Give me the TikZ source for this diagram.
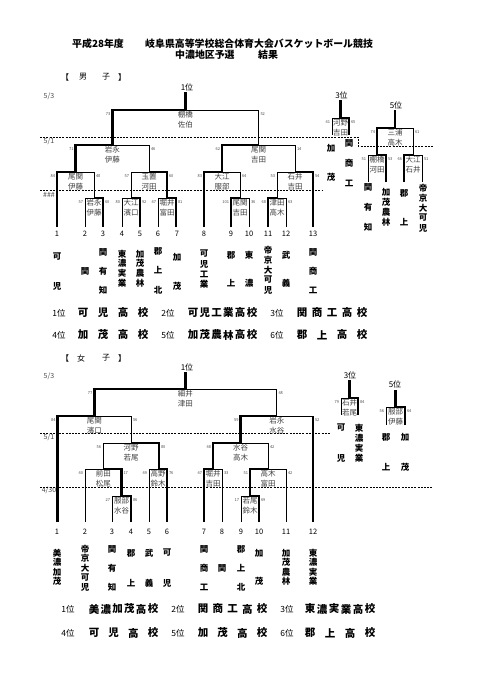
\documentclass[tikz,border=0pt]{standalone}
\usepackage{fontspec}
\setmainfont{Noto Sans CJK JP}
\newcounter{nd}
\newcommand{\T}[3][]{\stepcounter{nd}\node[#1] (t\arabic{nd}) at (#2) {#3};}
\newcommand{\MtL}[5]{\draw[thk] (#1,#4) -- (#1,#3) -- ({(#1+#2)/2},#3); \draw[thn] ({(#1+#2)/2},#3) -- (#2,#3) -- (#2,#5);}
\newcommand{\MtR}[5]{\draw[thn] ({(#1+#2)/2},#3) -- (#1,#3) -- (#1,#4); \draw[thk] (#2,#5) -- (#2,#3) -- ({(#1+#2)/2},#3);}
\newcommand{\Rf}[7]{\T[ref]{{(#1+#2)/2},{#3+5}}{#4}\T[ref]{{(#1+#2)/2},{#3+14.5}}{#5}\T[sc,anchor=east]{{#1-1.5},{#3+4}}{#6}\T[sc,anchor=west]{{#2+1.5},{#3+4}}{#7}}
\newcommand{\VN}[4]{\foreach \c [count=\i from 0] in {#4} {\T[tn]{#1,{#2+\i*#3}}{\c}}}
\newcommand{\RK}[4]{\foreach \c [count=\i from 0] in {#4} {\T[rk]{{#1+\i*#2},#3}{\c}}}
\begin{document}
\begin{tikzpicture}[x=1pt,y=-1pt,
  thn/.style={line width=0.8pt},
  thk/.style={line width=2.6pt,line cap=square},
  dsh/.style={line width=0.6pt,dash pattern=on 2pt off 1.2pt},
  ref/.style={font=\fontsize{7.5}{8}\selectfont,text=black!75,inner sep=0pt},
  sc/.style={font=\fontsize{4}{4}\selectfont,text=black!70,inner sep=0.3pt},
  tn/.style={font=\fontsize{8.5}{9}\selectfont\bfseries,inner sep=0pt},
  num/.style={font=\fontsize{7.5}{8}\selectfont,inner sep=0pt},
  dt/.style={font=\fontsize{7}{8}\selectfont,text=black!70,inner sep=0pt},
  lab/.style={font=\fontsize{8}{9}\selectfont,inner sep=0pt},
  rk/.style={font=\fontsize{10.5}{11}\selectfont\bfseries,inner sep=0pt},
  rkl/.style={font=\fontsize{8.5}{9}\selectfont,inner sep=0pt},
  ttl/.style={font=\fontsize{9.9}{11}\selectfont\bfseries,inner sep=0pt,anchor=west}]
\useasboundingbox[fill=white] (0,0) rectangle (481,680);
% titles
\T[ttl]{72,44}{平成28年度}
\T[ttl]{145,44}{岐阜県高等学校総合体育大会バスケットボール競技}
\T[ttl]{175,55}{中濃地区予選}
\T[ttl]{258,55}{結果}
% section labels
\T[lab]{65,77}{【}\T[lab]{83,77}{男}\T[lab]{106,77}{子}\T[lab]{122,77}{】}
\T[lab]{65,358}{【}\T[lab]{81,358}{女}\T[lab]{106,358}{子}\T[lab]{122,358}{】}
% ===== MEN =====
\T[lab]{187,87}{1位}
\T[dt]{49,96}{5/3}\T[dt]{49,141}{5/1}\T[dt]{49,195}{\#\#\#}
\draw[dsh] (40,137) -- (358,137) -- (358,146) -- (433,146);
\draw[dsh] (40,190) -- (323,190);
\draw[thk] (185.4,92) -- (185.4,110);
\MtL{112.25}{258.5}{110}{145}{145}
\MtL{75.5}{149}{145}{172}{172}
\MtL{57}{94}{172}{227}{198}
\MtR{85}{103}{198}{227}{227}
\MtR{131}{167}{172}{198}{198}
\MtR{122}{140}{198}{227}{227}
\MtR{158}{176}{198}{227}{227}
\MtL{222}{295}{145}{172}{172}
\MtL{204}{240}{172}{227}{198}
\MtL{231}{249}{198}{227}{227}
\MtR{277}{313}{172}{198}{227}
\MtL{268}{286}{198}{227}{227}
\Rf{112.25}{258.5}{110}{棚橋}{佐伯}{73}{52}
\Rf{75.5}{149}{145}{岩永}{伊藤}{71}{46}
\Rf{57}{94}{172}{尾関}{伊藤}{84}{48}
\Rf{85}{103}{198}{岩永}{伊藤}{57}{60}
\Rf{131}{167}{172}{玉置}{河田}{57}{60}
\Rf{122}{140}{198}{大江}{濱口}{80}{92}
\Rf{158}{176}{198}{堀井}{富田}{47}{81}
\Rf{222}{295}{145}{尾関}{吉田}{62}{14}
\Rf{204}{240}{172}{大江}{服部}{83}{64}
\Rf{231}{249}{198}{尾関}{吉田}{101}{36}
\Rf{277}{313}{172}{石井}{吉田}{53}{54}
\Rf{268}{286}{198}{津田}{高木}{68}{63}
% men 3rd
\T[lab]{341.5,95}{3位}
\draw[thk] (340.5,100) -- (340.5,118);
\MtR{332}{349}{118}{135}{135}
\Rf{332}{349}{118}{河野}{吉田}{41}{65}
\VN{331}{148}{29}{加,茂}
\VN{349}{143}{20}{関,商,工}
% men 5th
\T[lab]{396,105}{5位}
\draw[thk] (395,110) -- (395,128);
\MtL{377}{413}{128}{155}{155}
\MtR{368}{386}{155}{182}{182}
\MtL{404}{422}{155}{182}{182}
\Rf{377}{413}{128}{三浦}{高木}{74}{61}
\Rf{368}{386}{155}{棚橋}{河田}{51}{53}
\Rf{404}{422}{155}{大江}{石井}{66}{51}
\VN{368}{187}{20}{関,有,知}
\VN{386}{192}{10}{加,茂,農,林}
\VN{404}{193}{29}{郡,上}
\VN{423}{188}{10}{帝,京,大,可,児}
% men numbers
\foreach \x [count=\n] in {57,85,103,122,140,158,177,204,231,249,268,286,313} {\T[num]{\x,234}{\n}}
\VN{57}{257}{29}{可,児}
\VN{85}{271}{0}{関}
\VN{103}{252}{19}{関,有,知}
\VN{122}{254}{9.7}{東,濃,実,業}
\VN{140}{254}{9.7}{加,茂,農,林}
\VN{158}{251}{19.5}{郡,上,北}
\VN{177}{257}{29}{加,茂}
\VN{204}{254}{10}{可,児,工,業}
\VN{231}{255}{28}{郡,上}
\VN{249}{255}{28}{東,濃}
\VN{268}{250}{10}{帝,京,大,可,児}
\VN{286}{255}{28}{武,義}
\VN{313}{252}{19}{関,商,工}
% men ranking
\T[rkl]{59,313}{1位}\RK{83}{20}{313}{可,児,高,校}
\T[rkl]{168,313}{2位}\RK{193}{11.8}{313}{可,児,工,業,高,校}
\T[rkl]{277,313}{3位}\RK{302}{15}{313}{関,商,工,高,校}
\T[rkl]{59,335}{4位}\RK{83}{20}{335}{加,茂,高,校}
\T[rkl]{168,335}{5位}\RK{193}{11.8}{335}{加,茂,農,林,高,校}
\T[rkl]{277,335}{6位}\RK{302}{20}{335}{郡,上,高,校}
% ===== WOMEN =====
\T[lab]{187,367}{1位}
\T[dt]{49,376}{5/3}\T[dt]{49,437}{5/1}\T[dt]{49,490}{4/30}
\draw[dsh] (40,433) -- (330,433);
\draw[dsh] (40,487) -- (432,487);
\draw[thk] (185.4,372) -- (185.4,389);
\MtL{94.25}{276.5}{389}{416}{416}
\MtL{57.5}{131}{416}{522}{443}
\MtR{103}{159}{443}{469}{469}
\MtR{85}{121.5}{469}{522}{496}
\MtR{112}{131}{496}{522}{522}
\MtR{149}{167}{469}{522}{522}
\MtL{240.5}{313}{416}{443}{522}
\draw[thk] (313,416) -- (313,522);
\MtL{213}{268}{443}{469}{469}
\MtL{204}{222}{469}{522}{522}
\MtL{250}{286}{469}{496}{522}
\MtR{241}{259}{496}{522}{522}
\Rf{94.25}{276.5}{389}{細井}{津田}{77}{48}
\Rf{57.5}{131}{416}{尾関}{濱口}{84}{56}
\Rf{103}{159}{443}{河野}{若尾}{56}{80}
\Rf{85}{121.5}{469}{前田}{松尾}{40}{17}
\Rf{112}{131}{496}{服部}{水谷}{27}{86}
\Rf{149}{167}{469}{高野}{鈴木}{49}{76}
\Rf{240.5}{313}{416}{岩永}{水谷}{59}{52}
\Rf{213}{268}{443}{水谷}{高木}{48}{42}
\Rf{204}{222}{469}{堀井}{吉田}{47}{33}
\Rf{250}{286}{469}{高木}{富田}{51}{42}
\Rf{241}{259}{496}{若尾}{鈴木}{17}{69}
% women 3rd
\T[lab]{350,375}{3位}
\draw[thk] (349.5,380) -- (349.5,398);
\MtR{341}{358}{398}{415}{415}
\Rf{341}{358}{398}{石井}{若尾}{79}{84}
\VN{341}{428}{30}{可,児}
\VN{359}{428}{10}{東,濃,実,業}
% women 5th
\T[lab]{395,384}{5位}
\draw[thk] (395.5,390) -- (395.5,407);
\MtR{386}{405}{407}{425}{425}
\Rf{386}{405}{407}{服部}{伊藤}{56}{64}
\VN{386}{437}{30}{郡,上}
\VN{405}{437}{30}{加,茂}
% women numbers
\foreach \x [count=\n] in {57,85,112,131,149,167,204,222,241,259,286,313} {\T[num]{\x,532}{\n}}
\VN{57}{553}{9.5}{美,濃,加,茂}
\VN{85}{549}{9.5}{帝,京,大,可,児}
\VN{112}{549}{19}{関,有,知}
\VN{131}{553}{30}{郡,上}
\VN{149}{553}{30}{武,義}
\VN{167}{553}{30}{可,児}
\VN{204}{549}{19}{関,商,工}
\VN{222}{568}{0}{関}
\VN{241}{549}{19}{郡,上,北}
\VN{259}{553}{28}{加,茂}
\VN{286}{553}{9.5}{加,茂,農,林}
\VN{313}{553}{9.5}{東,濃,実,業}
% women ranking
\T[rkl]{68,609}{1位}\RK{94}{11.8}{609}{美,濃,加,茂,高,校}
\T[rkl]{178,609}{2位}\RK{203}{14.75}{609}{関,商,工,高,校}
\T[rkl]{287,609}{3位}\RK{310}{12}{609}{東,濃,実,業,高,校}
\T[rkl]{68,633}{4位}\RK{94}{19.7}{633}{可,児,高,校}
\T[rkl]{178,633}{5位}\RK{203}{19.7}{633}{加,茂,高,校}
\T[rkl]{287,633}{6位}\RK{310}{20}{633}{郡,上,高,校}
\end{tikzpicture}
\end{document}
